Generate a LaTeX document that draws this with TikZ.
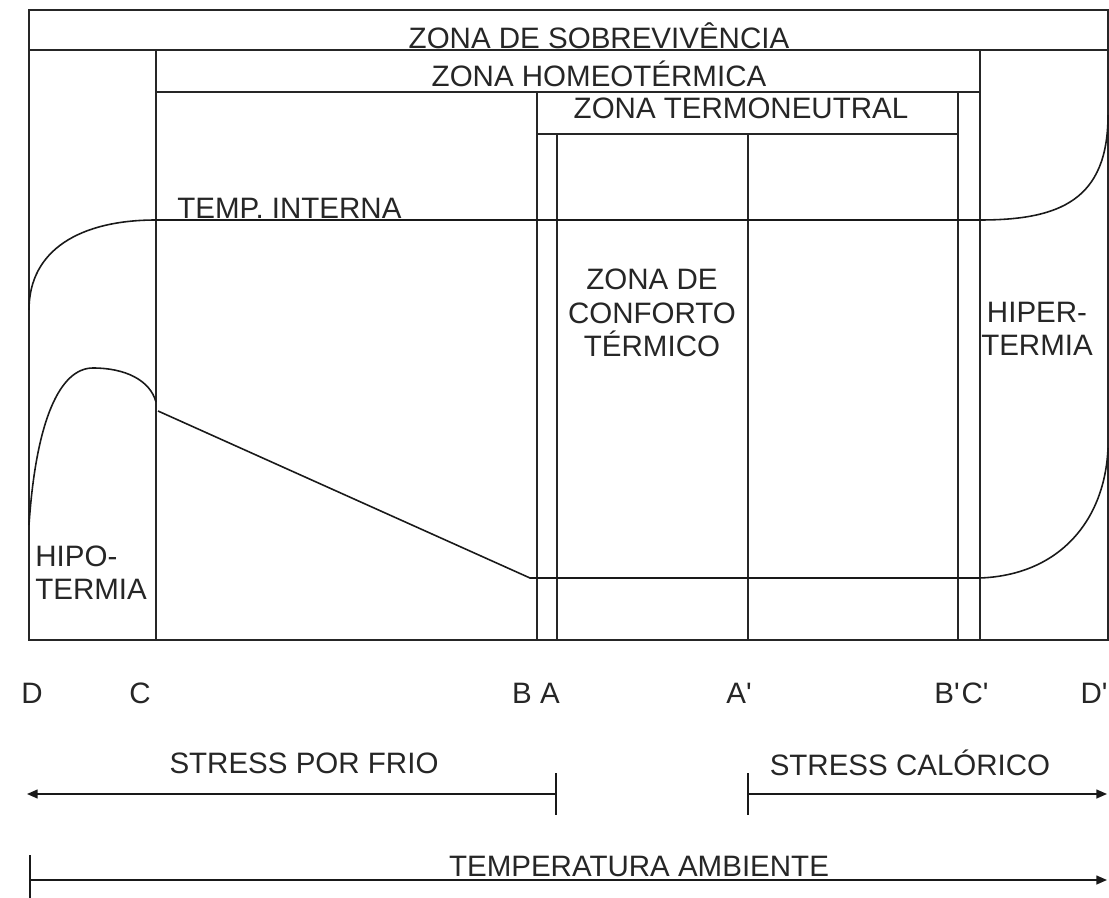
\documentclass[tikz,border=0pt]{standalone}
\usepackage{fontspec}
\setmainfont{Liberation Sans}
\usepackage{tikz}
\usetikzlibrary{arrows.meta}

\begin{document}
\begin{tikzpicture}[x=0.02cm,y=-0.02cm,>={Triangle[length=6pt,width=5pt]},
    every node/.style={font=\fontsize{16.8}{19}\selectfont,inner sep=0pt,text=black!85},
    zone/.style={line width=0.9pt,draw=black!85},
    curve/.style={line width=0.9pt,draw=black!90},
    bar/.style={line width=0.9pt,draw=black!90}]
\useasboundingbox (0,0) rectangle (1109,898);

% frame and zones
\draw[zone,line width=1.3pt] (29,10) rectangle (1108,640);
\draw[zone] (29,50) -- (1108,50);
\draw[zone] (156,92) -- (980,92);
\draw[zone] (537,134) -- (958,134);
\foreach \x/\y in {156/50,980/50,537/92,958/92,557/134,748/134}
    \draw[zone] (\x,\y) -- (\x,640);

\node (sobrev) at (599,36) {ZONA DE SOBREVIVÊNCIA};
\node (homeo) at (599,74) {ZONA HOMEOTÉRMICA};
\node (neutra) at (741,108) {ZONA TERMONEUTRAL};
\node[anchor=base west] (tint) at (177,219) {TEMP. INTERNA};
\node[align=center] (conforto) at (652,313) {ZONA DE\\CONFORTO\\TÉRMICO};
\node[align=center] (hiper) at (1037,329) {HIPER-\\TERMIA};
\node[align=left,anchor=west] (hipo) at (35,573) {HIPO-\\TERMIA};

% curves
\draw[curve] (29,310) .. controls (29,250) and (80,220) .. (156,220)
    -- (980,220) .. controls (1060,220) and (1108,200) .. (1108,115);
\draw[curve] (29,525) .. controls (36,420) and (60,368) .. (93,368)
    .. controls (125,368) and (150,380) .. (156,402);
\draw[curve] (158,411) -- (530,578) -- (980,578)
    .. controls (1060,575) and (1105,520) .. (1108,448);

% points on the axis
\node (lD) at (32,693) {D};
\node (lC) at (140,693) {C};
\node (lB) at (522,693) {B};
\node (lA) at (550,693) {A};
\node (lAp) at (739,693) {A\textquotesingle};
\node (lBp) at (947,693) {B\textquotesingle};
\node (lCp) at (975,693) {C\textquotesingle};
\node (lDp) at (1094,693) {D\textquotesingle};

% stress ranges
\node (frio) at (304,763) {STRESS POR FRIO};
\node (calor) at (910,763) {STRESS CALÓRICO};
\node[anchor=base] (amb) at (639,876) {TEMPERATURA AMBIENTE};

\coordinate (frioA) at (556,794);
\coordinate (frioB) at (27,794);
\coordinate (calorA) at (748,794);
\coordinate (calorB) at (1107,794);
\coordinate (ambA) at (30,880);
\coordinate (ambB) at (1107,880);

\draw[bar,->] (frioA) -- (frioB);
\draw[bar] ([yshift=0.42cm]frioA) -- ([yshift=-0.42cm]frioA);
\draw[bar,->] (calorA) -- (calorB);
\draw[bar] ([yshift=0.42cm]calorA) -- ([yshift=-0.42cm]calorA);
\draw[bar,->] (ambA) -- (ambB);
\draw[bar] ([yshift=0.5cm]ambA) -- ([yshift=-0.36cm]ambA);
\end{tikzpicture}
\end{document}
